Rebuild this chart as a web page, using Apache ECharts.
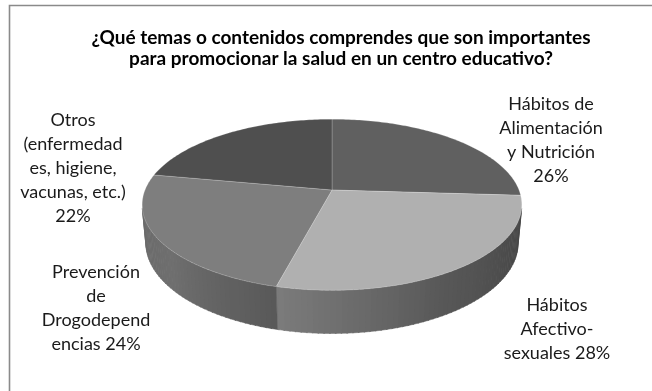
<!DOCTYPE html>
<html><head><meta charset="utf-8">
<script src="https://cdn.jsdelivr.net/npm/echarts@6/dist/echarts.min.js"></script>
<style>html,body{margin:0;padding:0;background:#fff}#c{width:652px;height:391px}</style>
</head><body><div id="c"></div>
<script>
// ---- data ----
const categories = ['Hábitos de Alimentación y Nutrición', 'Hábitos Afectivo-sexuales', 'Prevención de Drogodependencias', 'Otros (enfermedades, higiene, vacunas, etc.)'];
const values = [26, 28, 24, 22];
const labelLines = [['Hábitos de', 'Alimentación', 'y Nutrición'], ['Hábitos', 'Afectivo-', 'sexuales'], ['Prevención', 'de', 'Drogodepend', 'encias'], ['Otros', '(enfermedad', 'es, higiene,', 'vacunas, etc.)']];
const percentSep = ['\n', ' ', ' ', '\n'];
const titleText = '¿Qué temas o contenidos comprendes que son importantes\npara promocionar la salud en un centro educativo?';

// ---- style / layout ----
const topColors = [[0x60,0x60,0x60],[0xb0,0xb0,0xb0],[0x7e,0x7e,0x7e],[0x4f,0x4f,0x4f]];
const labelPos = [[551, 140], [557, 329], [96, 308], [73, 168]];
const CX = 332, CY = 190, R = 187, S = 0.444, C = Math.sqrt(1 - S * S), DIST = 5.2, H = 0.23;
const shadeTable = [[90, 0.36], [150, 0.5], [194, 0.7], [230, 0.88], [270, 0.82]];

const total = values.reduce((a, b) => a + b, 0);
const starts = [];
values.reduce((acc, v) => { starts.push(acc); return acc + v; }, 0);

function proj(theta, y) {
  const t = theta * Math.PI / 180;
  const x = Math.sin(t), z = -Math.cos(t);
  const f = DIST / (DIST - (z * C + y * S));
  return [CX + R * x * f, CY + R * (z * S - y * C) * f];
}
function shade(theta) {
  for (let i = 0; i < shadeTable.length - 1; i++) {
    const a = shadeTable[i], b = shadeTable[i + 1];
    if (theta <= b[0]) { const t = Math.max(0, (theta - a[0]) / (b[0] - a[0])); return a[1] + (b[1] - a[1]) * t; }
  }
  return shadeTable[shadeTable.length - 1][1];
}
function rgb(c, k) { return 'rgb(' + c.map(v => Math.min(255, Math.round(v * k))).join(',') + ')'; }
const visLimit = Math.acos(-1 / (DIST * C)) * 180 / Math.PI;

function renderItem(params, api) {
  const i = params.dataIndex;
  const v = api.value(0);
  const a0 = starts[i] / total * 360, a1 = (starts[i] + v) / total * 360;
  const children = [];
  const w0 = Math.max(a0, visLimit), w1 = Math.min(a1, 360 - visLimit);
  if (w1 > w0) {
    const step = 1.5;
    for (let t = w0; t < w1; t += step) {
      const t2 = Math.min(w1, t + step);
      const t3 = Math.min(w1, t2 + 0.3);
      const col = rgb(topColors[i], shade((t + t2) / 2));
      children.push({ type: 'polygon', shape: { points: [proj(t, 0), proj(t3, 0), proj(t3, -H), proj(t, -H)] }, style: { fill: col, stroke: col, lineWidth: 0.5 } });
    }
  }
  const pts = [[CX, CY]];
  for (let t = a0; t < a1; t += 1) pts.push(proj(t, 0));
  pts.push(proj(a1, 0));
  children.push({ type: 'polygon', shape: { points: pts }, style: { fill: rgb(topColors[i], 1), stroke: 'rgba(255,255,255,0.25)', lineWidth: 0.8 } });
  children.push({ type: 'text', x: labelPos[i][0], y: labelPos[i][1], style: {
    text: labelLines[i].join('\n') + percentSep[i] + v + '%', align: 'center', verticalAlign: 'middle',
    font: '18px Lato', lineHeight: 24, fill: '#1a1a1a' } });
  return { type: 'group', children };
}

const chart = echarts.init(document.getElementById('c'), null, { renderer: 'canvas' });
chart.setOption({
  backgroundColor: '#fff',
  animation: false,
  title: { text: titleText, left: 336, top: 22, textAlign: 'center',
    textStyle: { fontFamily: 'Lato', fontWeight: 'bold', fontSize: 19, lineHeight: 21, color: '#000' } },
  graphic: [{ type: 'rect', shape: { x: 9.5, y: 5.5, width: 700, height: 500 }, style: { fill: 'none', stroke: '#8a8a8a', lineWidth: 1.6 }, z: 100 }],
  series: [{ type: 'custom', coordinateSystem: 'none', renderItem,
    data: values.map((v, i) => ({ name: categories[i], value: [v] })) }]
});
</script></body></html>
